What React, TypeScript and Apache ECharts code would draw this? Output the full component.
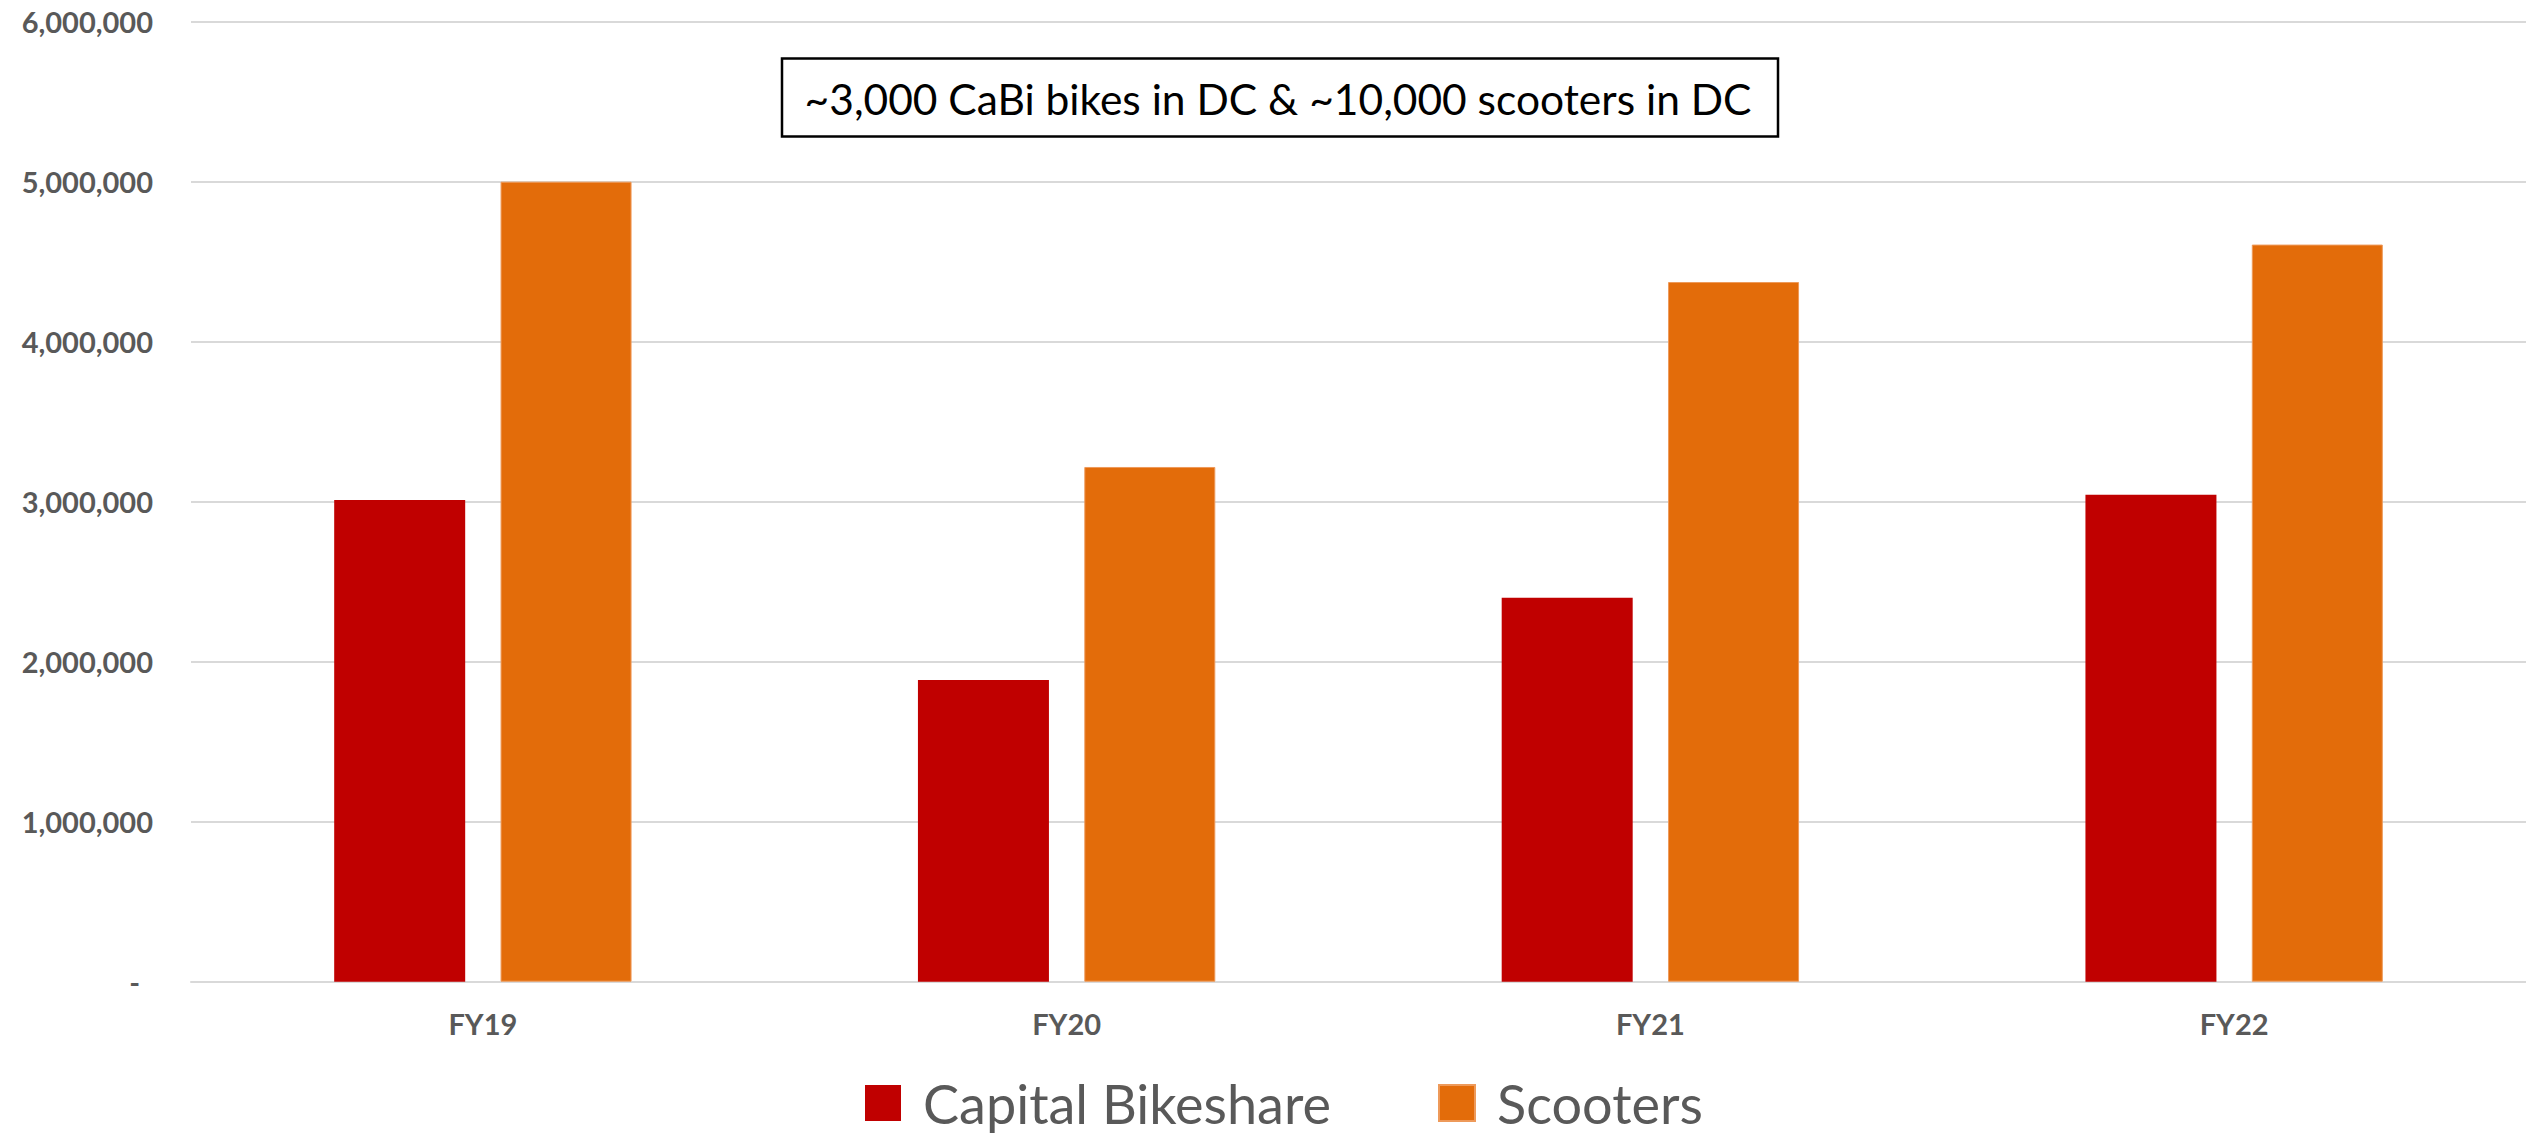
import React, { useEffect, useRef } from "react";
import * as echarts from "echarts";

const categories = ["FY19", "FY20", "FY21", "FY22"];
const capitalBikeshare = [3010000, 1886000, 2400000, 3044000];
const scooters = [5000000, 3217000, 4373000, 4607000];
const seriesNames = ["Capital Bikeshare", "Scooters"];
const annotation = "~3,000 CaBi bikes in DC & ~10,000 scooters in DC";

const RED = "#C00000";
const ORANGE = "#E36C0A";
const GRAY = "#595959";
const FONT = "Lato, 'Open Sans', sans-serif";

export default function App() {
  const ref = useRef<HTMLDivElement>(null);

  useEffect(() => {
    document.body.style.margin = "0";
    const chart = echarts.init(ref.current!, null, { renderer: "svg" });
    const legendText = {
      fontSize: 54,
      color: GRAY,
      fontFamily: FONT,
      lineHeight: 54,
      padding: [0, 0, 0, 17],
    };
    chart.setOption({
      animation: false,
      backgroundColor: "#FFFFFF",
      grid: { left: 191, top: 21.7, width: 2340, height: 960, containLabel: false },
      legend: [
        {
          data: [seriesNames[0]],
          left: 865,
          top: 1076,
          padding: 0,
          icon: "rect",
          itemWidth: 36,
          itemHeight: 36,
          textStyle: legendText,
          selectedMode: false,
        },
        {
          data: [seriesNames[1]],
          left: 1438,
          top: 1076,
          padding: 0,
          icon: "rect",
          itemWidth: 36,
          itemHeight: 36,
          textStyle: legendText,
          selectedMode: false,
        },
      ],
      xAxis: {
        type: "category",
        data: categories,
        axisLine: { show: true, lineStyle: { color: "#D9D9D9", width: 2 } },
        axisTick: { show: false },
        axisLabel: {
          margin: 27,
          fontSize: 29,
          lineHeight: 29,
          fontWeight: "bold",
          color: GRAY,
          fontFamily: FONT,
        },
      },
      yAxis: {
        type: "value",
        min: 0,
        max: 6000000,
        interval: 1000000,
        axisLine: { show: false },
        axisTick: { show: false },
        splitLine: { lineStyle: { color: "#D9D9D9", width: 2 } },
        axisLabel: {
          margin: 38,
          fontSize: 29,
          fontWeight: "bold",
          color: GRAY,
          fontFamily: FONT,
          formatter: (v: number) => (v === 0 ? "{z|-}" : v.toLocaleString("en-US")),
          rich: {
            z: {
              fontSize: 29,
              fontWeight: "bold",
              color: GRAY,
              fontFamily: FONT,
              padding: [0, 13, 0, 0],
            },
          },
        },
      },
      series: [
        {
          name: seriesNames[0],
          type: "bar",
          data: capitalBikeshare,
          barWidth: 131,
          barGap: "27%",
          itemStyle: { color: RED },
        },
        {
          name: seriesNames[1],
          type: "bar",
          data: scooters,
          barWidth: 131,
          barGap: "27%",
          itemStyle: { color: ORANGE, borderColor: "#EE9A5A", borderWidth: 1 },
        },
      ],
      graphic: [
        {
          type: "rect",
          shape: { x: 782, y: 58.5, width: 996, height: 78 },
          style: { fill: "#FFFFFF", stroke: "#000000", lineWidth: 2.5 },
          z: 100,
        },
        {
          type: "text",
          x: 1278,
          y: 98,
          z: 101,
          style: {
            text: annotation,
            fontSize: 42.5,
            fontFamily: FONT,
            fill: "#000000",
            textAlign: "center",
            textVerticalAlign: "middle",
          },
        },
      ],
    });
    return () => chart.dispose();
  }, []);

  return (
    <div
      ref={ref}
      style={{ position: "fixed", left: 0, top: 0, width: 2526, height: 1134 }}
    />
  );
}
